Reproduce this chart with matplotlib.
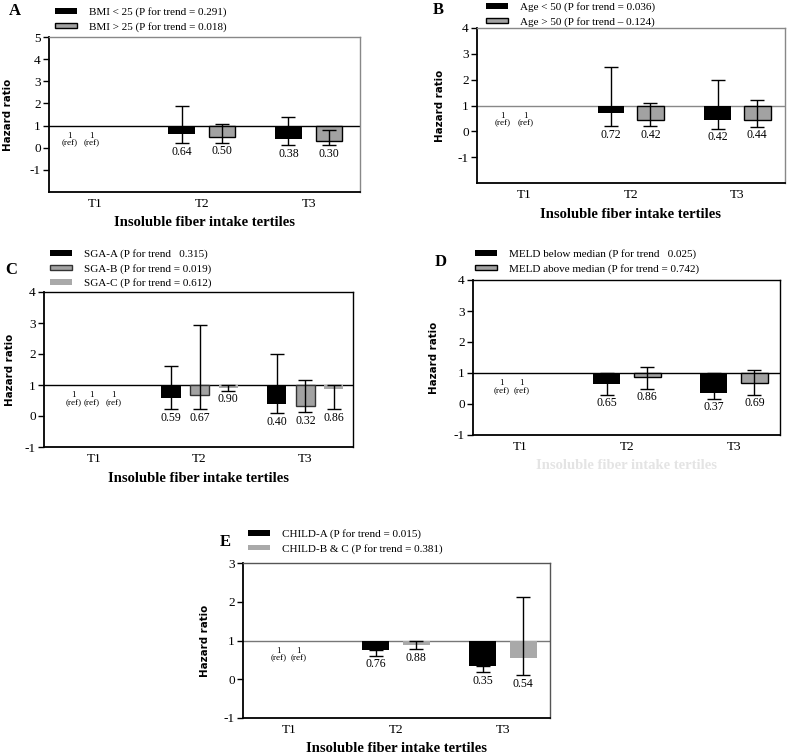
import matplotlib
matplotlib.use("Agg")
import matplotlib.pyplot as plt
from matplotlib import font_manager
from matplotlib.font_manager import FontProperties
from matplotlib.patches import Patch

# ---- data -------------------------------------------------------------
tertiles = ["T1", "T2", "T3"]

# panel A : BMI
a_labels = ["BMI < 25 (P for trend = 0.291)", "BMI > 25 (P for trend = 0.018)"]
a_hr = [[0.64, 0.38], [0.50, 0.30]]
a_lo = [[0.20, 0.10], [0.21, 0.10]]
a_hi = [[1.88, 1.39], [1.08, 0.78]]

# panel B : age
b_labels = ["Age < 50 (P for trend = 0.036)", "Age > 50 (P for trend \u2013 0.124)"]
b_hr = [[0.72, 0.42], [0.42, 0.44]]
b_lo = [[0.20, 0.09], [0.20, 0.17]]
b_hi = [[2.49, 2.00], [1.09, 1.20]]

# panel C : SGA
c_labels = ["SGA-A (P for trend \u00a0 0.315)", "SGA-B (P for trend = 0.019)",
            "SGA-C (P for trend = 0.612)"]
c_hr = [[0.59, 0.40], [0.67, 0.32], [0.90, 0.86]]
c_lo = [[0.21, 0.09], [0.21, 0.12], [0.82, 0.21]]
c_hi = [[1.61, 2.00], [2.92, 1.16], [1.00, 1.00]]

# panel D : MELD
d_labels = ["MELD below median (P for trend \u00a0 0.025)",
            "MELD above median (P for trend = 0.742)"]
d_hr = [[0.65, 0.37], [0.86, 0.69]]
d_lo = [[0.30, 0.17], [0.49, 0.30]]
d_hi = [[1.00, 1.00], [1.19, 1.09]]

# panel E : CHILD
e_labels = ["CHILD-A (P for trend = 0.015)", "CHILD-B & C (P for trend = 0.381)"]
e_hr = [[0.76, 0.35], [0.88, 0.54]]
e_lo = [[0.61, 0.18], [0.77, 0.10]]
e_hi = [[0.76, 0.35], [1.00, 2.12]]

# ---- fonts ------------------------------------------------------------
names = {f.name for f in font_manager.fontManager.ttflist}
SERIF = "Liberation Serif" if "Liberation Serif" in names else "DejaVu Serif"

# narrow bold sans for the y label, if one is around
ylab_font = None
for f in font_manager.fontManager.ttflist:
    fn = f.fname.lower()
    if ("narrow" in fn or "condensed" in fn) and "bold" in fn and "italic" not in fn \
            and "oblique" not in fn and "extra" not in fn and "semi" not in fn:
        if ylab_font is None or "liberation" in fn:
            ylab_font = f.fname
if ylab_font and "liberation" in ylab_font.lower():
    YLAB = FontProperties(fname=ylab_font, size=9.5)
elif ylab_font:
    YLAB = FontProperties(fname=ylab_font, size=8.2)
else:
    YLAB = FontProperties(family="Liberation Sans", weight="bold", size=8.5)

plt.rcParams["font.family"] = SERIF

BLACK = "black"
GRAY = "#a2a2a2"
LIGHT = "#a9a9a9"

W, H = 789, 756
fig = plt.figure(figsize=(W / 100, H / 100), dpi=100)


def px_axes(left, top, right, bottom):
    return fig.add_axes([left / W, 1 - bottom / H, (right - left) / W, (bottom - top) / H])


def panel(box, letter, letter_xy, labels, hr, lo, hi, styles, offsets, width,
          xlim, ylim, yticks, ref_x, leg_xy, ylab_dx, top_col, line_col,
          xlabel_col="black"):
    ax = px_axes(*box)
    n = len(labels)
    pos = [1, 2]
    for s in range(n):
        fc, ec = styles[s]
        xs = [p + offsets[s] for p in pos]
        ax.bar(xs, [v - 1 for v in hr[s]], bottom=1, width=width, color=fc,
               edgecolor=ec if ec else fc, linewidth=1.0 if ec else 0, zorder=2)
        yerr = [[v - l for v, l in zip(hr[s], lo[s])],
                [h - v for v, h in zip(hr[s], hi[s])]]
        ax.errorbar(xs, hr[s], yerr=yerr, fmt="none", ecolor="black",
                    elinewidth=1.0, capsize=5, capthick=1.0, zorder=3)
        for x, l, v in zip(xs, lo[s], hr[s]):
            ax.annotate(f"{v:.2f}", (x, min(l, v)), xytext=(0, -6),
                        textcoords="offset points", ha="center", va="center",
                        fontsize=8.5)
    for x in ref_x:
        ax.annotate("1\n(ref)", (x, 1), xytext=(0, -10), textcoords="offset points",
                    ha="center", va="center", fontsize=6.5, linespacing=0.95)
    ax.axhline(1, color=line_col, lw=1.0, zorder=1)
    ax.set_xlim(*xlim)
    ax.set_ylim(*ylim)
    ax.set_xticks([0, 1, 2])
    ax.set_xticklabels(tertiles, fontsize=9.5)
    ax.set_yticks(yticks)
    ax.set_yticklabels([str(t) for t in yticks], fontsize=9.5)
    ax.tick_params(axis="x", length=0, pad=4)
    ax.tick_params(axis="y", length=4, width=1.0, pad=2)
    for side in ["left", "bottom"]:
        ax.spines[side].set_linewidth(1.3)
        ax.spines[side].set_color("black")
    for side in ["top", "right"]:
        ax.spines[side].set_linewidth(1.0)
        ax.spines[side].set_color(top_col)
    ax.set_xlabel("Insoluble fiber intake tertiles", fontsize=10.5,
                  fontweight="bold", labelpad=5, color=xlabel_col)
    ax.set_ylabel("Hazard ratio", fontproperties=YLAB)
    ax.yaxis.set_label_coords(-ylab_dx / (box[2] - box[0]), 0.5)

    handles = []
    for fc, ec in styles:
        handles.append(Patch(facecolor=fc, edgecolor=ec if ec else fc,
                             linewidth=1.0 if ec else 0))
    fig.legend(handles, labels, loc="upper left",
               bbox_to_anchor=(leg_xy[0] / W, 1 - leg_xy[1] / H),
               frameon=False, fontsize=8, handlelength=2.0, handleheight=0.4,
               handletextpad=1.1, labelspacing=0.42, borderpad=0,
               borderaxespad=0)
    fig.text(letter_xy[0] / W, 1 - letter_xy[1] / H, letter, fontsize=12,
             fontweight="bold", ha="left", va="center")
    return ax


two = [(BLACK, None), (GRAY, "black")]

panel((49, 37, 360, 192), "A", (9, 11), a_labels, a_hr, a_lo, a_hi, two,
      [-0.19, 0.19], 0.25, (-0.43, 2.48), (-2, 5), [-1, 0, 1, 2, 3, 4, 5],
      [-0.24, -0.03], (55, 7), 36, "#888888", "black")

panel((477, 28, 785, 183), "B", (433, 10), b_labels, b_hr, b_lo, b_hi, two,
      [-0.185, 0.185], 0.25, (-0.44, 2.445), (-2, 4), [-1, 0, 1, 2, 3, 4],
      [-0.20, 0.016], (486, 2), 32, "#888888", "#888888")

panel((44, 292, 353, 447), "C", (5, 270), c_labels, c_hr, c_lo, c_hi,
      [(BLACK, None), (GRAY, "#333333"), (LIGHT, None)],
      [-0.27, 0.0, 0.27], 0.18, (-0.47, 2.45), (-1, 4), [-1, 0, 1, 2, 3, 4],
      [-0.19, -0.02, 0.186], (50, 249), 29, "black", "black")

panel((473, 280, 780, 435), "D", (435, 262), d_labels, d_hr, d_lo, d_hi, two,
      [-0.19, 0.19], 0.25, (-0.44, 2.43), (-1, 4), [-1, 0, 1, 2, 3, 4],
      [-0.17, 0.015], (475, 249), 34, "black", "black", xlabel_col="#e4e4e4")

panel((243, 563, 550, 718), "E", (220, 542), e_labels, e_hr, e_lo, e_hi,
      [(BLACK, None), (LIGHT, None)],
      [-0.19, 0.19], 0.25, (-0.43, 2.44), (-1, 3), [-1, 0, 1, 2, 3],
      [-0.094, 0.093], (248, 529), 33, "#555555", "#777777")

fig.savefig("out.png", dpi=100)
